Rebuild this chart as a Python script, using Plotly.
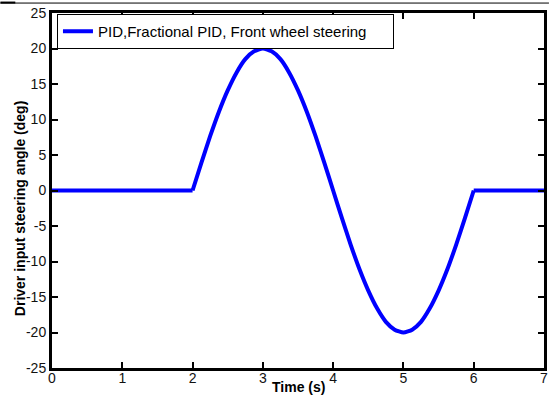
import plotly.graph_objects as go

# Time samples (s) and driver steering angle (deg)
time_s = [0, 0.5, 1.0, 1.5, 2.0,
          2.125, 2.25, 2.375, 2.5, 2.625, 2.75, 2.875, 3.0,
          3.125, 3.25, 3.375, 3.5, 3.625, 3.75, 3.875, 4.0,
          4.125, 4.25, 4.375, 4.5, 4.625, 4.75, 4.875, 5.0,
          5.125, 5.25, 5.375, 5.5, 5.625, 5.75, 5.875, 6.0,
          6.5, 7.0]
steer_deg = [0, 0, 0, 0, 0,
             3.9, 7.65, 11.1, 14.1, 16.6, 18.5, 19.6, 20.0,
             19.6, 18.5, 16.6, 14.1, 11.1, 7.65, 3.9, 0,
             -3.9, -7.65, -11.1, -14.1, -16.6, -18.5, -19.6, -20.0,
             -19.6, -18.5, -16.6, -14.1, -11.1, -7.65, -3.9, 0,
             0, 0]
series_name = "PID,Fractional PID, Front wheel steering"
x_ticks = [0, 1, 2, 3, 4, 5, 6, 7]
y_ticks = [-25, -20, -15, -10, -5, 0, 5, 10, 15, 20, 25]
y_ticklabels = ["-25", "-20", "-15", "-10", "-5", "0", "5", "10", "15", "20", "25"]
x_title = "Time (s)"
y_title = "Driver input steering angle (deg)"

FONT = "Liberation Sans, Arial, sans-serif"
L, R, T, B = 52, 5, 11, 32
W, H = 553, 400
PW, PH = W - L - R, H - T - B
BLUE = "#0000ff"

# split the series at the manoeuvre start/end so the corners stay sharp
i0 = time_s.index(2.0)
i1 = time_s.index(6.0)
segments = [(time_s[:i0 + 1], steer_deg[:i0 + 1], "linear"),
            (time_s[i0:i1 + 1], steer_deg[i0:i1 + 1], "spline"),
            (time_s[i1:], steer_deg[i1:], "linear")]

fig = go.Figure()
for k, (xs, ys, shp) in enumerate(segments):
    fig.add_trace(go.Scatter(x=xs, y=ys, mode="lines",
                             name=series_name + "\u00a0" * 5,
                             legendgroup="g", showlegend=(k == 0),
                             line=dict(color=BLUE, width=4, shape=shp, smoothing=0.6)))

axis_common = dict(showline=True, linecolor="black", linewidth=3, mirror="ticks",
                   ticks="inside", ticklen=6, tickwidth=2, tickcolor="black",
                   showgrid=False, zeroline=False,
                   tickfont=dict(family=FONT, size=14, color="#111"))

fig.update_layout(
    width=W, height=H,
    margin=dict(l=L, r=R, t=T, b=B),
    paper_bgcolor="white", plot_bgcolor="white",
    showlegend=True,
    legend=dict(x=5 / PW, y=1 - 1 / PH, xanchor="left", yanchor="top",
                bordercolor="black", borderwidth=1, bgcolor="white",
                font=dict(family=FONT, size=15, color="black"),
                tracegroupgap=0),
    xaxis=dict(range=[0, 7], tickvals=x_ticks, ticklabelstandoff=-5, **axis_common),
    yaxis=dict(range=[-25, 25], tickvals=y_ticks, ticktext=y_ticklabels, **axis_common),
)

fig.add_annotation(text="<b>" + x_title + "</b>", xref="paper", yref="paper",
                   x=(300 - L) / PW, y=-(387 - (T + PH)) / PH,
                   xanchor="center", yanchor="middle", showarrow=False,
                   font=dict(family=FONT, size=14, color="black"))
fig.add_annotation(text="<b>" + y_title + "</b>", xref="paper", yref="paper",
                   x=(20 - L) / PW, y=((T + PH) - 208) / PH, textangle=-90,
                   xanchor="center", yanchor="middle", showarrow=False,
                   font=dict(family=FONT, size=14, color="black"))

# thin border line at the very top of the image
fig.add_shape(type="line", xref="paper", yref="paper", x0=-L / PW, x1=(W - L) / PW,
              y0=1.0 + (T - 1) / PH, y1=1.0 + (T - 1) / PH,
              line=dict(color="black", width=1))
fig.add_shape(type="line", xref="paper", yref="paper", x0=-L / PW, x1=(15 - L) / PW,
              y0=1.0 + (T - 0.5) / PH, y1=1.0 + (T - 0.5) / PH,
              line=dict(color="black", width=2))

fig.write_html("out.html", config={"displayModeBar": False},
               post_script="document.body.style.margin='0';")
